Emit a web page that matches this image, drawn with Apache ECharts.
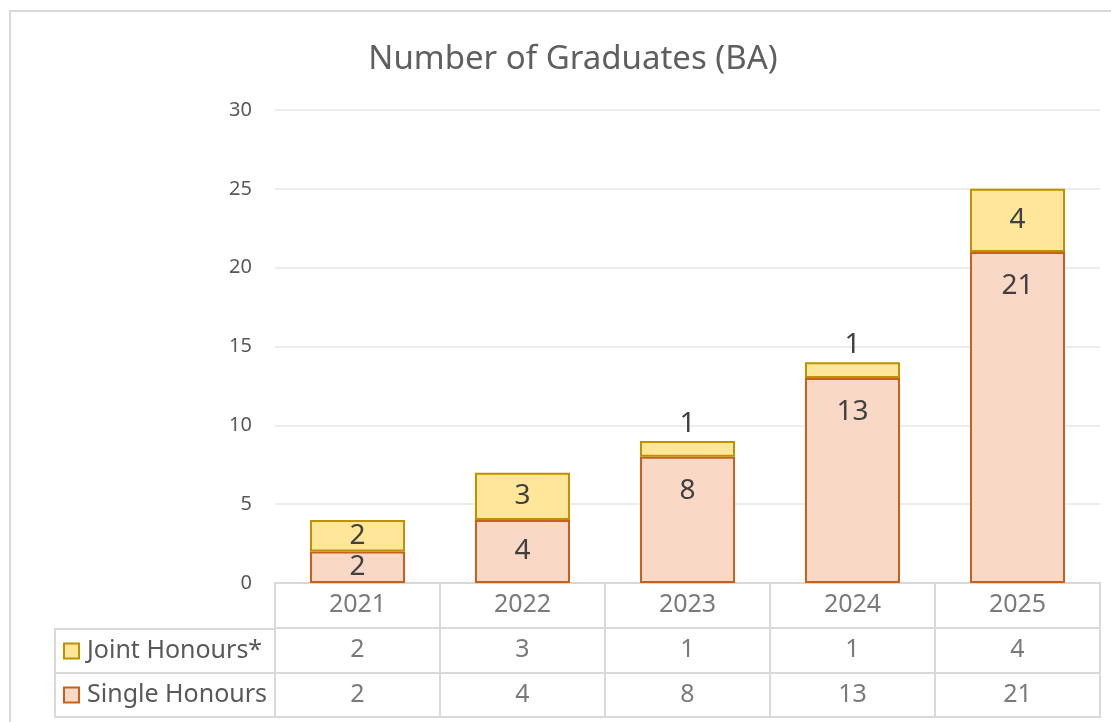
<!DOCTYPE html>
<html>
<head>
<meta charset="utf-8">
<script src="https://cdn.jsdelivr.net/npm/echarts@6/dist/echarts.min.js"></script>
<style>
  html, body { margin: 0; padding: 0; background: #fff; }
  #chart { width: 1111px; height: 722px; }
</style>
</head>
<body>
<div id="chart"></div>
<script>
// data
const years = ['2021', '2022', '2023', '2024', '2025']
const singleHonours = [2, 4, 8, 13, 21]
const jointHonours = [2, 3, 1, 1, 4]
const rowNames = ['Joint Honours*', 'Single Honours']
const tableRows = ['Year', 'Joint', 'Single']

const font = '"Noto Sans", "Open Sans", sans-serif'
const singleFill = '#f9d9c5'
const singleEdge = '#c9601b'
const jointFill = '#ffe699'
const jointEdge = '#bf9000'
const lineGrey = '#d9d9d9'

const chart = echarts.init(document.getElementById('chart'))

// small segments get their label centred / above, bigger ones near the top
const singleData = singleHonours.map(v => ({
  value: v,
  label: v >= 8 ? { position: 'insideTop', distance: 20 } : { position: 'inside' }
}))
const jointData = jointHonours.map(v => ({
  value: v,
  label: v < 2 ? { position: 'top', distance: 3 } : { position: 'inside' }
}))

const tableCell = (row, vals) => vals.map((v, i) => ({ value: [years[i], row], text: String(v) }))

const option = {
  animation: false,
  textStyle: { fontFamily: font },
  title: {
    text: 'Number of Graduates (BA)',
    left: 568,
    top: 38,
    textAlign: 'center',
    textStyle: { fontFamily: font, fontSize: 33, fontWeight: 'normal', color: '#5f5f5f' }
  },
  graphic: [{
    type: 'rect',
    shape: { x: 10, y: 11, width: 1200, height: 800 },
    style: { fill: 'none', stroke: lineGrey, lineWidth: 2 },
    silent: true
  }],
  grid: [
    { left: 275, right: 11, top: 110, height: 473 },
    { left: 275, right: 11, top: 583, height: 134, show: true, borderColor: lineGrey, borderWidth: 2 },
    { left: 55, width: 220, top: 629, height: 88, show: true, borderColor: lineGrey, borderWidth: 2 }
  ],
  xAxis: [
    {
      gridIndex: 0, type: 'category', data: years,
      axisLine: { show: false }, axisTick: { show: false }, axisLabel: { show: false }
    },
    {
      gridIndex: 1, type: 'category', data: years,
      axisLine: { show: false }, axisTick: { show: false }, axisLabel: { show: false },
      splitLine: { show: true, lineStyle: { color: lineGrey, width: 2 } }
    },
    {
      gridIndex: 2, type: 'category', data: ['name'],
      axisLine: { show: false }, axisTick: { show: false }, axisLabel: { show: false }
    }
  ],
  yAxis: [
    {
      gridIndex: 0, type: 'value', min: 0, max: 30, interval: 5,
      axisLine: { show: false }, axisTick: { show: false },
      axisLabel: { margin: 23, fontSize: 20, color: '#595959', fontFamily: font },
      splitLine: { lineStyle: { color: '#ececec', width: 2 } }
    },
    {
      gridIndex: 1, type: 'category', data: tableRows, inverse: true,
      axisLine: { show: false }, axisTick: { show: false }, axisLabel: { show: false },
      splitLine: { show: true, lineStyle: { color: lineGrey, width: 2 } }
    },
    {
      gridIndex: 2, type: 'category', data: rowNames, inverse: true,
      axisLine: { show: false }, axisTick: { show: false },
      splitLine: { show: true, lineStyle: { color: lineGrey, width: 2 } },
      axisLabel: {
        inside: true,
        margin: 10,
        formatter: function (val) {
          return (val === rowNames[0] ? '{j|}' : '{s|}') + '{t|' + val + '}'
        },
        rich: {
          j: { width: 13, height: 13, backgroundColor: jointFill, borderColor: jointEdge, borderWidth: 2 },
          s: { width: 13, height: 13, backgroundColor: singleFill, borderColor: singleEdge, borderWidth: 2 },
          t: { fontSize: 25, color: '#595959', fontFamily: font, padding: [0, 0, 0, 9] }
        }
      }
    }
  ],
  series: [
    {
      name: 'Single Honours',
      type: 'bar',
      stack: 'total',
      barWidth: 95,
      data: singleData,
      itemStyle: { color: singleFill, borderColor: singleEdge, borderWidth: 2 },
      label: { show: true, fontSize: 28, color: '#404040', fontFamily: font }
    },
    {
      name: 'Joint Honours*',
      type: 'bar',
      stack: 'total',
      barWidth: 95,
      data: jointData,
      itemStyle: { color: jointFill, borderColor: jointEdge, borderWidth: 2 },
      label: { show: true, fontSize: 28, color: '#404040', fontFamily: font }
    },
    {
      type: 'scatter',
      xAxisIndex: 1,
      yAxisIndex: 1,
      symbolSize: 1,
      itemStyle: { color: 'rgba(0,0,0,0)' },
      data: [].concat(
        tableCell('Year', years),
        tableCell('Joint', jointHonours),
        tableCell('Single', singleHonours)
      ),
      label: {
        show: true,
        position: 'inside',
        fontSize: 25,
        color: '#595959',
        fontFamily: font,
        formatter: p => p.data.text
      }
    }
  ]
}

chart.setOption(option)
</script>
</body>
</html>
